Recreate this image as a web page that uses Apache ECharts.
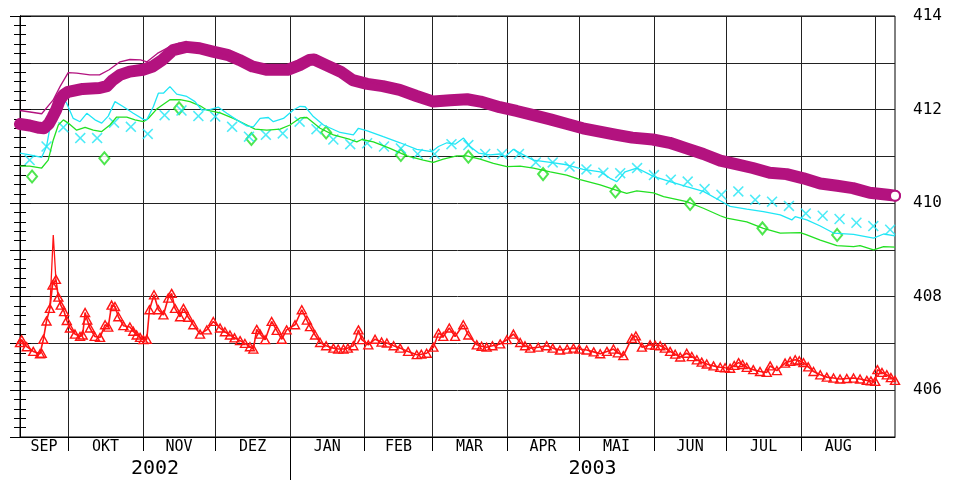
<!DOCTYPE html>
<html>
<head>
    <meta charset="utf-8">
    <title>Wasserstand 2002/2003</title>
    <script src="https://cdn.jsdelivr.net/npm/echarts@6/dist/echarts.min.js"></script>
</head>
<body style="margin:0;background:#fff;">
    <div id="main" style="width:954px;height:480px;"></div>
    <script type="text/javascript">
// x = Tage ab 11.09.2002 (Tag 363 = 09.09.2003)
var monthStarts = [20, 51, 81, 112, 143, 171, 202, 232, 263, 293, 324, 355];
var monthNames = ['SEP', 'OKT', 'NOV', 'DEZ', 'JAN', 'FEB', 'MAR', 'APR', 'MAI', 'JUN', 'JUL', 'AUG'];
var monthMid = [10, 35.5, 66, 96.5, 127.5, 157, 186.5, 217, 247.5, 278, 308.5, 339.5];
var yearStart = [112];
var yearNames = ['2002', '2003'];
var yearMid = [56, 237.5];
var yLabels = ['406', '408', '410', '412', '414'];

// lila Band (Tageswerte)
var purpleBand = [[0,411.69],[4,411.66],[8,411.61],[10,411.6],[12,411.7],[13.5,411.84],[15,411.99],[16.5,412.2],[18,412.31],[20,412.38],[26,412.44],[33,412.46],[36,412.5],[38.5,412.63],[41.5,412.74],[45.5,412.81],[51,412.85],[55,412.92],[59,413.06],[63.5,413.27],[69,413.34],[74.5,413.31],[80,413.24],[86,413.17],[91,413.06],[96.5,412.92],[102.5,412.85],[111,412.85],[116,412.95],[120,413.06],[122,413.07],[127,412.95],[133,412.81],[138,412.63],[144,412.55],[150.5,412.5],[157.5,412.42],[164.5,412.29],[171.5,412.17],[178.5,412.2],[185.5,412.22],[191,412.17],[199,412.05],[206,411.97],[213,411.88],[220,411.79],[227,411.69],[233.5,411.6],[240.5,411.53],[247.5,411.46],[254,411.4],[262.5,411.36],[269.5,411.29],[276.5,411.17],[283.5,411.05],[290.5,410.91],[297.5,410.83],[304,410.75],[311,410.65],[318,410.62],[325,410.53],[332,410.42],[339,410.37],[345.5,410.32],[352.5,410.22],[360,410.18],[363,410.16]];
// lila dünne Linie
var purpleThin = [[0,411.98],[9,411.91],[13.7,412.2],[16.6,412.49],[20,412.79],[23.5,412.78],[29,412.74],[33,412.74],[37,412.85],[41.5,413.02],[45.6,413.07],[50,413.06],[52.7,413.02],[57,413.2],[62,413.34],[66,413.42],[69,413.38],[74.5,413.33],[80,413.26],[91,413.08],[102.5,412.87],[111,412.87],[120,413.08],[127,412.97],[138,412.66],[150.5,412.53],[160,412.4]];
// cyan Linie
var cyanLine = [[0,411.07],[4,411.03],[9,410.98],[11,411.21],[13,411.78],[15.2,412.28],[17.3,412.29],[19.4,412.13],[22.1,411.81],[24.9,411.74],[27.7,411.92],[31.1,411.78],[33.9,411.71],[36.6,411.86],[39.4,412.17],[42.9,412.06],[47,411.92],[51.2,411.79],[52.6,411.78],[55.3,412.06],[57.4,412.35],[59.5,412.35],[62.2,412.49],[65,412.33],[69.2,412.28],[72.6,412.17],[75.4,411.99],[78.8,412.0],[82.3,412.05],[85.8,411.92],[89.9,411.78],[94.1,411.65],[96.8,411.63],[99.6,411.81],[103,411.83],[105.1,411.74],[109.3,411.81],[113.4,411.99],[116.2,412.07],[118.3,412.06],[121.7,411.85],[125.9,411.67],[132.8,411.51],[138.3,411.46],[140.4,411.6],[143.8,411.55],[150.7,411.42],[157.7,411.29],[164.6,411.15],[170.8,411.1],[173.6,411.21],[177.1,411.29],[180.5,411.26],[184,411.39],[186.7,411.21],[190.2,411.07],[195,411.03],[199.2,411.05],[201.2,410.99],[204.7,411.15],[207.5,411.07],[213,410.92],[220,410.87],[226.8,410.82],[233.7,410.72],[240.7,410.67],[244.8,410.53],[247.6,410.46],[251,410.67],[255.9,410.75],[262.8,410.57],[269.7,410.46],[276.6,410.35],[283.5,410.25],[290.5,410.05],[294.6,409.93],[301.5,409.87],[308.4,409.82],[315.4,409.75],[320.2,409.64],[321.6,409.71],[326.4,409.64],[332,409.51],[337.5,409.36],[345.8,409.33],[354.1,409.25],[358.3,409.34],[363,409.3]];
// cyan Kreuze (wöchentlich)
var cyanCross = [[4,410.92],[11,411.21],[18,411.62],[25,411.39],[32,411.39],[39,411.72],[46,411.63],[53,411.48],[60,411.88],[67,411.98],[74,411.86],[81,411.85],[88,411.63],[95,411.42],[102,411.46],[109,411.49],[116,411.74],[123,411.58],[130,411.36],[137,411.26],[144,411.28],[151,411.21],[158,411.17],[165,411.05],[172,411.05],[179,411.26],[186,411.24],[193,411.05],[200,411.05],[207,411.05],[214,410.87],[221,410.87],[228,410.78],[235,410.72],[242,410.65],[249,410.64],[256,410.75],[263,410.6],[270,410.5],[277,410.46],[284,410.3],[291,410.18],[298,410.25],[305,410.07],[312,410.03],[319,409.94],[326,409.78],[333,409.73],[340,409.66],[347,409.58],[354,409.51],[361,409.43]];
// grüne Linie
var greenLine = [[0,410.79],[4,410.79],[9,410.75],[11.7,410.92],[13.8,411.35],[15.9,411.67],[18,411.78],[20,411.71],[23.5,411.56],[27,411.62],[30.4,411.56],[33.9,411.53],[37.3,411.67],[40.1,411.84],[44.3,411.84],[47.7,411.78],[51.2,411.74],[53.2,411.81],[56.7,412.01],[62.2,412.21],[66.4,412.21],[70.5,412.17],[74.7,412.08],[77.5,411.99],[83,411.93],[88.5,411.81],[94.1,411.67],[97.5,411.58],[102.4,411.56],[107.9,411.58],[112,411.67],[116.2,411.82],[119,411.83],[124.5,411.6],[130,411.46],[136.9,411.36],[139.7,411.31],[141.8,411.36],[146.6,411.31],[153.5,411.17],[160.5,411.01],[167.3,410.92],[171.5,410.87],[175.6,410.94],[181.2,411.01],[185.3,411.01],[190.9,410.94],[196.4,410.85],[202,410.78],[207.5,410.79],[213,410.75],[220,410.67],[226.8,410.6],[232.4,410.5],[240.7,410.39],[247.6,410.27],[251.7,410.21],[255.9,410.26],[262.8,410.22],[267,410.14],[276.6,410.03],[283.5,409.89],[290.5,409.73],[293.2,409.68],[301.5,409.6],[308.4,409.46],[315.4,409.36],[323.7,409.37],[326.4,409.32],[332,409.21],[338.9,409.09],[345.8,409.07],[348.5,409.09],[354.1,409.0],[358.3,409.07],[363,409.06]];
// grüne Rauten (monatlich)
var greenDiamond = [[5,410.57],[35,410.96],[66,412.03],[96,411.37],[127,411.51],[158,411.03],[186,410.99],[217,410.62],[247,410.25],[278,409.98],[308,409.46],[339,409.32]];
// rote Dreiecke (Tageswerte)
var redTri = [[0,407.02],[0.7,407.08],[2.8,406.93],[5.5,406.83],[8.3,406.78],[9,406.79],[9.7,407.09],[11,407.48],[12.4,407.75],[13.5,408.25],[14.9,408.37],[15.9,407.99],[16.9,407.82],[18.3,407.68],[19.4,407.49],[20.7,407.33],[22.8,407.2],[24.9,407.15],[26,407.18],[27,407.66],[27.9,407.5],[29,407.33],[31,407.15],[33.2,407.13],[35.3,407.4],[36.6,407.35],[38,407.82],[39.4,407.79],[40.8,407.57],[42.9,407.38],[45.6,407.35],[47,407.26],[48.4,407.18],[49.8,407.13],[51.2,407.08],[52.6,407.09],[53.7,407.72],[55.6,408.04],[57.4,407.72],[59.5,407.61],[61.5,407.97],[62.9,408.07],[64.3,407.75],[66.4,407.57],[67.8,407.75],[69.8,407.56],[71.9,407.4],[74.7,407.2],[77.5,407.29],[80.2,407.47],[83,407.33],[85,407.25],[87.1,407.18],[89,407.12],[91.3,407.06],[93.3,407.0],[95.4,406.93],[96.8,406.88],[98.2,407.3],[99.6,407.2],[101.7,407.08],[104.4,407.47],[106.5,407.28],[108.6,407.09],[110.6,407.29],[114.1,407.4],[116.9,407.72],[119,407.5],[120.3,407.36],[122.4,407.18],[124.5,407.02],[127,406.95],[130,406.9],[132,406.88],[134.2,406.88],[136,406.9],[138.3,406.95],[140.4,407.29],[141.8,407.08],[144.5,406.97],[147.3,407.09],[150,407.03],[152.2,407.01],[155,406.95],[157.7,406.9],[161,406.83],[164.6,406.76],[166.5,406.77],[168.7,406.79],[171.5,406.92],[173.6,407.22],[175.6,407.15],[178.1,407.33],[180.5,407.15],[183.9,407.4],[186,407.18],[189.5,406.97],[191.5,406.94],[193.6,406.92],[196,406.95],[199.2,406.99],[202,407.08],[204.7,407.2],[207.5,407.02],[209.5,406.95],[211.6,406.9],[215,406.92],[218.5,406.95],[221,406.9],[224,406.86],[227,406.88],[229.6,406.9],[232,406.88],[235.1,406.86],[238,406.82],[240.7,406.78],[243.5,406.83],[246.2,406.88],[248,406.8],[250.3,406.74],[253.8,407.11],[255.5,407.16],[258,406.92],[261.4,406.97],[263.5,406.96],[265.6,406.95],[267.5,406.9],[269.7,406.83],[271.8,406.77],[273.9,406.71],[276.6,406.79],[278.7,406.72],[280.8,406.65],[282.8,406.6],[284.9,406.56],[287.7,406.52],[290.5,406.49],[292.5,406.48],[294.6,406.47],[296.3,406.53],[298.1,406.59],[299.8,406.55],[301.5,406.49],[304.2,406.44],[307,406.4],[309.8,406.38],[311.2,406.52],[314,406.42],[317.4,406.58],[319.5,406.62],[321.6,406.65],[323.3,406.63],[325,406.59],[327,406.5],[329.2,406.4],[332,406.33],[334.7,406.28],[337.5,406.26],[340.2,406.24],[343,406.25],[345.8,406.26],[348.5,406.24],[351.3,406.21],[353,406.2],[354.8,406.19],[355.7,406.44],[357.6,406.38],[359.6,406.33],[361.3,406.27],[363,406.21]];
// rote Linie: Spitze im September
var redPeak = [[12.4,407.75],[13.8,409.32],[14.9,408.37]];

var PURPLE = '#b3127f', CYAN = '#1fe6f5', GREEN = '#22e022', RED = '#ff1414';
var crossPath = 'path://M0,1L1,0L5,4L9,0L10,1L6,5L10,9L9,10L5,6L1,10L0,9L4,5Z';
var fontMono = 'DejaVu Sans Mono';

var myChart = echarts.init(document.getElementById('main'));
option = {
    backgroundColor: '#fff',
    animation: false,
    grid: {
        left: 20, right: 59, top: 16, bottom: 43,
        show: true, borderColor: '#000', borderWidth: 1
    },
    xAxis: [{
        type: 'value', min: 0, max: 363, position: 'bottom',
        axisLine: { lineStyle: { color: '#000', width: 1 } },
        axisTick: { customValues: monthStarts, length: 14, lineStyle: { color: '#000' } },
        splitLine: { show: true, lineStyle: { color: '#222', width: 1 } },
        axisLabel: {
            customValues: monthMid, margin: 3, color: '#000',
            fontFamily: fontMono, fontSize: 15,
            formatter: function (v) { return monthNames[monthMid.indexOf(v)] || ''; }
        }
    }, {
        type: 'value', min: 0, max: 363, position: 'bottom',
        axisLine: { show: false },
        axisTick: { customValues: yearStart, length: 43, lineStyle: { color: '#000' } },
        splitLine: { show: false },
        axisLabel: {
            customValues: yearMid, margin: 22, color: '#000',
            fontFamily: fontMono, fontSize: 20,
            formatter: function (v) { return v < yearStart[0] ? yearNames[0] : yearNames[1]; }
        }
    }],
    yAxis: [{
        type: 'value', min: 405, max: 414, interval: 1, position: 'left',
        axisLine: { show: true, lineStyle: { color: '#000' } },
        axisTick: { show: true, length: 10, lineStyle: { color: '#000' } },
        minorTick: { show: true, splitNumber: 5, length: 6, lineStyle: { color: '#000' } },
        splitLine: { show: true, lineStyle: { color: '#222', width: 1 } },
        axisLabel: { show: false }
    }, {
        type: 'value', min: 405, max: 414, interval: 1, position: 'right',
        axisLine: { show: true, lineStyle: { color: '#000' } },
        axisTick: { show: true, length: 11, lineStyle: { color: '#000' } },
        minorTick: { show: true, splitNumber: 5, length: 6, lineStyle: { color: '#000' } },
        splitLine: { show: false },
        axisLabel: {
            margin: 18, color: '#000', fontFamily: fontMono, fontSize: 16,
            formatter: function (v) { return yLabels.indexOf(String(v)) >= 0 ? String(v) : ''; }
        }
    }],
    series: [{
        name: 'gruen', type: 'line', data: greenLine, showSymbol: false,
        lineStyle: { color: GREEN, width: 1.3 }, itemStyle: { color: GREEN }
    }, {
        name: 'gruen Raute', type: 'scatter', data: greenDiamond,
        symbol: 'emptyDiamond', symbolSize: [10, 12],
        itemStyle: { color: GREEN, borderColor: GREEN, borderWidth: 1.5 }
    }, {
        name: 'cyan', type: 'line', data: cyanLine, showSymbol: false,
        lineStyle: { color: CYAN, width: 1.3 }, itemStyle: { color: CYAN }
    }, {
        name: 'cyan Kreuz', type: 'scatter', data: cyanCross,
        symbol: crossPath, symbolSize: 11,
        itemStyle: { color: CYAN }
    }, {
        name: 'lila Band', type: 'line', data: purpleBand,
        showAllSymbol: true, symbol: 'circle',
        // nur der letzte Wert bekommt den sichtbaren Kringel
        symbolSize: function (val, params) { return params.dataIndex === purpleBand.length - 1 ? 10 : 0; },
        lineStyle: { color: PURPLE, width: 12, cap: 'round', join: 'round' },
        itemStyle: { color: '#fff', borderColor: PURPLE, borderWidth: 2 }
    }, {
        name: 'lila', type: 'line', data: purpleThin, showSymbol: false,
        lineStyle: { color: PURPLE, width: 1.3 }, itemStyle: { color: PURPLE }
    }, {
        name: 'rot Spitze', type: 'line', data: redPeak, showSymbol: false,
        lineStyle: { color: RED, width: 1.3 }, itemStyle: { color: RED }
    }, {
        name: 'rot', type: 'line', data: redTri,
        symbol: 'triangle', symbolSize: [9, 8], showAllSymbol: true,
        lineStyle: { color: RED, width: 1.6 },
        itemStyle: { color: 'rgba(255,255,255,0)', borderColor: RED, borderWidth: 1.4 }
    }]
};
myChart.setOption(option);
    </script>
</body>
</html>
